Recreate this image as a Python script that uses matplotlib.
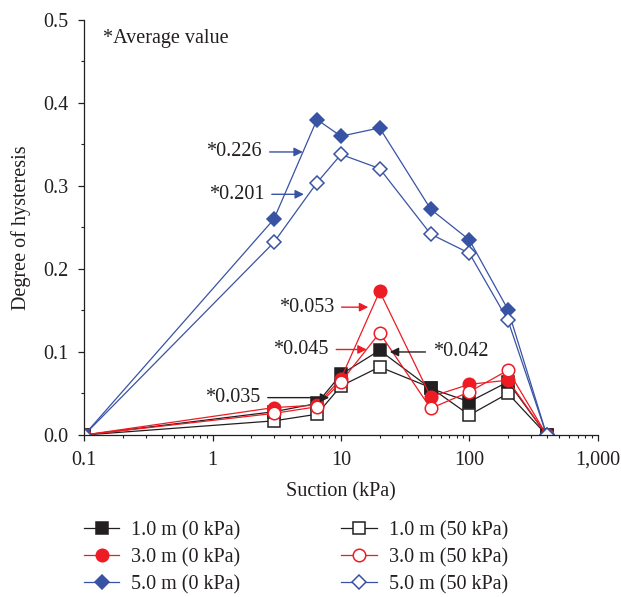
import matplotlib
matplotlib.use("Agg")
import matplotlib.pyplot as plt
from matplotlib.ticker import FixedLocator, MultipleLocator, NullFormatter

plt.rcParams['font.family'] = ['Liberation Serif', 'DejaVu Serif']
plt.rcParams['font.size'] = 14.5

# suction values (kPa)
suction = [0.1, 3, 6.5, 10, 20, 50, 100, 200, 400]

# degree of hysteresis for each depth / surcharge
d1_0 = [0.0, 0.028, 0.038, 0.073, 0.102, 0.056, 0.040, 0.064, 0.0]
d1_50 = [0.0, 0.017, 0.025, 0.059, 0.082, 0.057, 0.024, 0.050, 0.0]
d3_0 = [0.0, 0.033, 0.036, 0.068, 0.173, 0.046, 0.061, 0.066, 0.0]
d3_50 = [0.0, 0.026, 0.034, 0.064, 0.123, 0.032, 0.052, 0.078, 0.0]
d5_0 = [0.0, 0.260, 0.380, 0.360, 0.370, 0.272, 0.235, 0.151, 0.0]
d5_50 = [0.0, 0.232, 0.304, 0.338, 0.321, 0.242, 0.219, 0.138, 0.0]

BLACK = '#231f20'
RED = '#ed1c24'
BLUE = '#3953a4'

fig = plt.figure(figsize=(6.21, 5.97), dpi=100)
ax = fig.add_axes([0.1357, 0.2714, 0.8268, 0.6951])

kw = dict(lw=0.9, mew=1.1)
h1o, = ax.plot(suction, d1_50, color=BLACK, marker='s', ms=8.2, mfc='white', mec=BLACK, label='1.0 m (50 kPa)', **kw)
h1f, = ax.plot(suction, d1_0, color=BLACK, marker='s', ms=8.2, mfc=BLACK, mec=BLACK, label='1.0 m (0 kPa)', **kw)
h3f, = ax.plot(suction, d3_0, color=RED, marker='o', ms=9, mfc=RED, mec=RED, label='3.0 m (0 kPa)', **kw)
h3o, = ax.plot(suction, d3_50, color=RED, marker='o', ms=9, mfc='white', mec=RED, label='3.0 m (50 kPa)', **kw)
h5f, = ax.plot(suction, d5_0, color=BLUE, marker='D', ms=7.5, mfc=BLUE, mec=BLUE, label='5.0 m (0 kPa)', **kw)
h5o, = ax.plot(suction, d5_50, color=BLUE, marker='D', ms=7.5, mfc='white', mec=BLUE, label='5.0 m (50 kPa)', **kw)

ax.set_xscale('log')
ax.set_xlim(0.1, 1000)
ax.set_ylim(0, 0.5)
ax.xaxis.set_major_locator(FixedLocator([0.1, 1, 10, 100, 1000]))
ax.set_xticklabels(['0.1', '1', '10', '100', '1,000'])
ax.xaxis.set_minor_formatter(NullFormatter())
ax.yaxis.set_major_locator(MultipleLocator(0.1))
ax.yaxis.set_minor_locator(MultipleLocator(0.05))
ax.yaxis.set_major_formatter(plt.FormatStrFormatter('%.1f'))

for s in ['top', 'right']:
    ax.spines[s].set_visible(False)
for s in ['left', 'bottom']:
    ax.spines[s].set_linewidth(0.9)
    ax.spines[s].set_color(BLACK)
ax.tick_params(which='major', direction='out', length=4.5, width=0.9, color=BLACK, labelcolor=BLACK)
ax.tick_params(which='minor', direction='out', length=2.5, width=0.8, color=BLACK)
ax.tick_params(axis='x', which='major', pad=7)
ax.tick_params(axis='y', which='major', pad=7)

ax.set_xlabel('Suction (kPa)', color=BLACK, labelpad=9)
ax.set_ylabel('Degree of hysteresis', color=BLACK, labelpad=9)

ax.text(0.141, 0.478, '*Average value', ha='left', va='center', color=BLACK)


def note(txt, xy, xytext, color, side='right'):
    ax.annotate('', xy=xy, xytext=xytext,
                arrowprops=dict(arrowstyle='-|>', color=color, lw=1.0,
                                mutation_scale=13, shrinkA=0, shrinkB=0))
    if side == 'right':
        ax.text(xytext[0] * 0.87, xytext[1], txt, ha='right', va='center', color=BLACK)
    else:
        ax.text(xytext[0] * 1.14, xytext[1], txt, ha='left', va='center', color=BLACK)


note('*0.226', (5.04, 0.341), (2.78, 0.341), BLUE)
note('*0.201', (5.14, 0.290), (2.89, 0.290), BLUE)
note('*0.053', (16.3, 0.154), (10.1, 0.154), RED)
note('*0.045', (15.85, 0.103), (9.18, 0.103), RED)
note('*0.042', (24.0, 0.100), (45.5, 0.100), BLACK, side='left')
note('*0.035', (8.09, 0.045), (2.69, 0.045), BLACK)

handles = [h1f, h3f, h5f, h1o, h3o, h5o]
fig.legend(handles, [h.get_label() for h in handles], ncol=2, frameon=False,
           loc='upper left', bbox_to_anchor=(84 / 621, 1 - 521 / 597),
           borderpad=0, borderaxespad=0, handlelength=1.75, handletextpad=0.6,
           columnspacing=5.0, labelspacing=0.38, labelcolor=BLACK)

fig.savefig('out.png', dpi=100)
